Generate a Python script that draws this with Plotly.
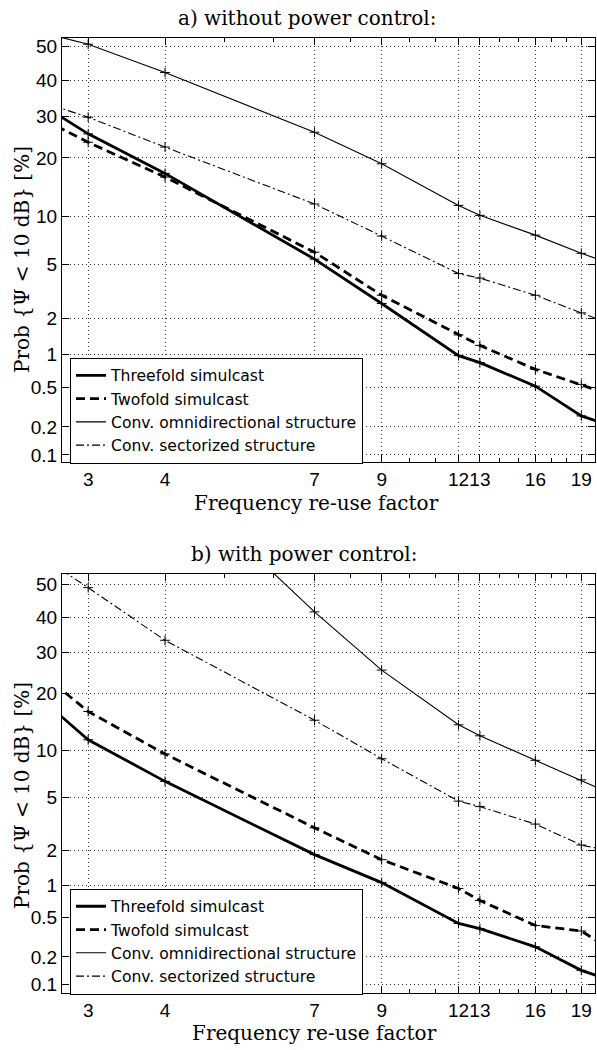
import plotly.graph_objects as go
from statistics import NormalDist

# ---------------- data ----------------
reuse_factor = [1, 3, 4, 7, 9, 12, 13, 16, 19, 21]
x_ticks = [3, 4, 7, 9, 12, 13, 16, 19]
x_minor = [5, 6, 8, 10, 11, 14, 15, 17, 18, 20]
y_ticks = [0.1, 0.2, 0.5, 1, 2, 5, 10, 20, 30, 40, 50]

# a) without power control  [%]
threefold_a = [77, 25.5, 16.9, 5.4, 2.6, 0.97, 0.84, 0.51, 0.26, 0.21]
twofold_a = [66, 23.5, 16.2, 6.0, 3.0, 1.46, 1.19, 0.73, 0.53, 0.43]
omni_a = [72, 50.8, 42.3, 25.9, 18.8, 11.5, 10.1, 7.7, 5.9, 5.1]
sector_a = [58, 29.7, 22.4, 11.7, 7.6, 4.3, 4.0, 3.0, 2.2, 1.83]

# b) with power control  [%]
threefold_b = [78, 11.5, 6.4, 1.84, 1.06, 0.44, 0.39, 0.255, 0.143, 0.114]
twofold_b = [81, 16.3, 9.5, 3.0, 1.67, 0.94, 0.73, 0.42, 0.37, 0.25]
omni_b = [None, None, 81, 41.6, 25.4, 13.9, 12.1, 8.7, 6.55, 5.4]
sector_b = [93, 49, 33.3, 14.7, 8.9, 4.7, 4.3, 3.2, 2.2, 1.99]

names = ["Threefold simulcast", "Twofold simulcast",
         "Conv. omnidirectional structure", "Conv. sectorized structure"]

nd = NormalDist()


def probit(vals):
    return [None if v is None else nd.inv_cdf(v / 100.0) for v in vals]


line_styles = [
    dict(color="black", width=2.8, dash="solid"),
    dict(color="black", width=2.8, dash="9px,5px"),
    dict(color="black", width=1.1, dash="solid"),
    dict(color="black", width=1.1, dash="8px,3px,2px,3px"),
]

fig = go.Figure()

panels = [
    ("x", "y", "legend", [threefold_a, twofold_a, omni_a, sector_a]),
    ("x2", "y2", "legend2", [threefold_b, twofold_b, omni_b, sector_b]),
]

for xa, ya, lg, series in panels:
    for name, vals, ls in zip(names, series, line_styles):
        zy = probit(vals)
        fig.add_trace(go.Scatter(
            x=reuse_factor, y=zy, mode="lines", name=name, line=ls,
            xaxis=xa, yaxis=ya, legend=lg, connectgaps=False,
            hoverinfo="skip"))
        fig.add_trace(go.Scatter(
            x=reuse_factor[1:-1], y=zy[1:-1], mode="markers", showlegend=False,
            marker=dict(symbol="cross-thin", size=7, color="black",
                        line=dict(width=1, color="black")),
            xaxis=xa, yaxis=ya, hoverinfo="skip"))

W, H = 597, 1050
x_dom = [62 / W, 595 / W]
tick_font = dict(family="Liberation Sans, Arial", size=19, color="black")
legend_font = dict(family="DejaVu Sans, Liberation Sans", size=15.6, color="black")
serif = "DejaVu Serif, Liberation Serif, serif"

common_x = dict(
    type="log", range=[0.4346, 1.30103],  # log10(2.72) .. log10(20)
    tickmode="array", tickvals=x_ticks, ticktext=[str(v) for v in x_ticks],
    tickangle=0, ticks="inside", ticklen=7, tickcolor="black",
    showline=True, linecolor="black", linewidth=1, mirror="allticks",
    showgrid=True, gridcolor="#333", gridwidth=1, griddash="1px,3px",
    zeroline=False, tickfont=tick_font, domain=x_dom,
    minor=dict(tickmode="array", tickvals=x_minor, ticks="inside",
               ticklen=4, tickcolor="black", showgrid=False),
)
common_y = dict(
    tickmode="array", tickvals=probit(y_ticks),
    ticktext=[("%g" % v) for v in y_ticks],
    ticks="inside", ticklen=7, tickcolor="black",
    showline=True, linecolor="black", linewidth=1, mirror="allticks",
    showgrid=True, gridcolor="#333", gridwidth=1, griddash="1px,3px",
    zeroline=False, tickfont=tick_font,
)

fig.update_layout(
    width=W, height=H,
    margin=dict(l=0, r=0, t=0, b=0),
    paper_bgcolor="white", plot_bgcolor="white",
    showlegend=True,
    xaxis=dict(common_x, anchor="y"),
    yaxis=dict(common_y, anchor="x", range=[-3.145, 0.068],
               domain=[1 - 463 / H, 1 - 37 / H]),
    xaxis2=dict(common_x, anchor="y2"),
    yaxis2=dict(common_y, anchor="x2", range=[-3.159, 0.082],
                domain=[1 - 996 / H, 1 - 575 / H]),
    legend=dict(x=70 / W, y=1 - 358 / H, xanchor="left", yanchor="top",
                bgcolor="white", bordercolor="black", borderwidth=1,
                font=legend_font, itemwidth=30, tracegroupgap=0),
    legend2=dict(x=70 / W, y=1 - 891 / H, xanchor="left", yanchor="top",
                 bgcolor="white", bordercolor="black", borderwidth=1,
                 font=legend_font, itemwidth=30, tracegroupgap=0),
)

ann_font = dict(family=serif, size=20, color="black")
annotations = [
    dict(text="a) without power control:", x=307 / W, y=1 - 17 / H),
    dict(text="b) with power control:", x=304 / W, y=1 - 555 / H),
    dict(text="Frequency re-use factor", x=316 / W, y=1 - 504 / H),
    dict(text="Frequency re-use factor", x=314 / W, y=1 - 1036 / H),
]
for a in annotations:
    fig.add_annotation(xref="paper", yref="paper", showarrow=False,
                       xanchor="center", yanchor="middle", font=ann_font, **a)
for yc in [260, 798]:
    fig.add_annotation(xref="paper", yref="paper", showarrow=False,
                       text="Prob {Ψ < 10 dB} [%]", textangle=-90,
                       x=22 / W, y=1 - yc / H, xanchor="center", yanchor="middle",
                       font=ann_font)

fig.write_html("out.html")
